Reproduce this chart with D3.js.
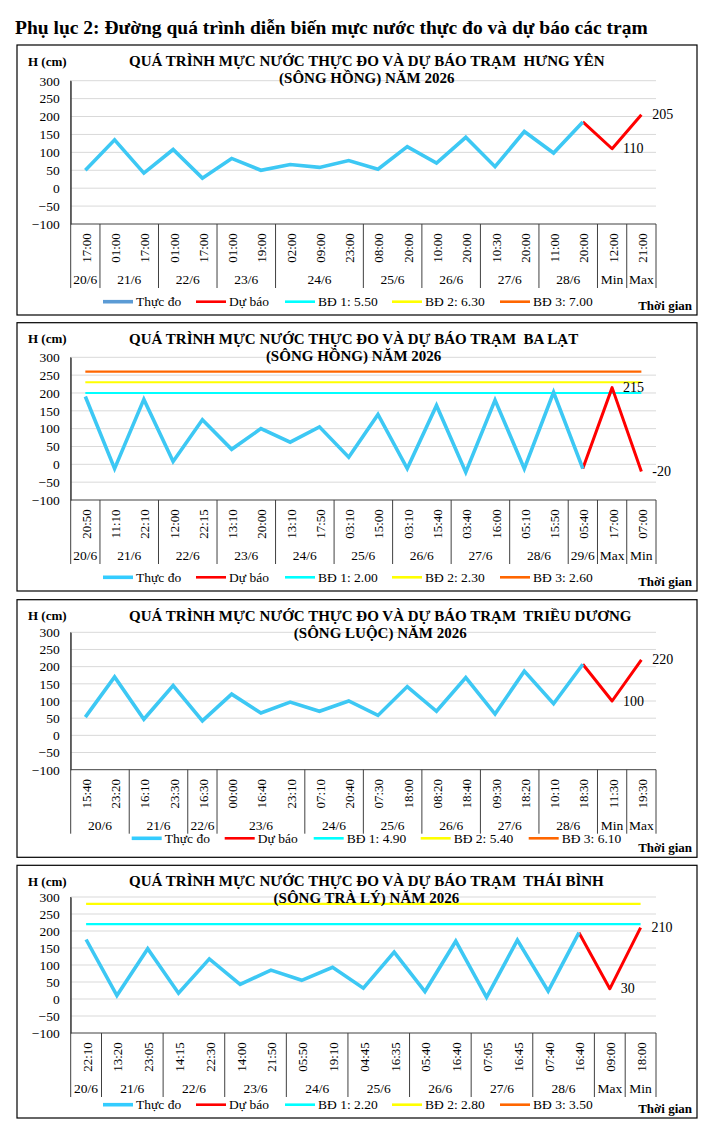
<!DOCTYPE html>
<html>
<head>
<meta charset="utf-8">
<script src="https://cdn.jsdelivr.net/npm/d3@7"></script>
<style>
  body { margin: 0; background: #fff; }
  svg { font-family: "Liberation Serif", "Times New Roman", serif; }
  .chart-title { white-space: pre; }
</style>
</head>
<body>
<svg id="page"></svg>
<script>
// ---- data (values in cm, alarm levels in m) ----
const hungYenTimes = ["17:00","01:00","17:00","01:00","17:00","01:00","19:00","02:00","09:00","23:00","08:00","20:00","10:00","20:00","10:30","20:00","11:00","20:00","12:00","21:00"];
const hungYenDays = ["20/6","21/6","21/6","22/6","22/6","23/6","23/6","24/6","24/6","24/6","25/6","25/6","26/6","26/6","27/6","27/6","28/6","28/6","Min","Max"];
const hungYenObserved = [50,135,42,108,28,83,50,66,58,77,53,116,70,142,60,158,98,185];
const hungYenForecast = [110,205];
const hungYenAlarms = [5.50,6.30,7.00];

const baLatTimes = ["20:50","11:10","22:10","12:00","22:15","13:10","20:00","13:10","17:50","03:10","15:00","03:10","15:40","03:40","16:00","05:10","15:50","05:40","17:00","07:00"];
const baLatDays = ["20/6","21/6","21/6","22/6","22/6","23/6","23/6","24/6","24/6","25/6","25/6","26/6","26/6","27/6","27/6","28/6","28/6","29/6","Max","Min"];
const baLatObserved = [190,-12,182,8,125,42,100,62,105,20,140,-12,165,-22,180,-12,202,-12];
const baLatForecast = [215,-20];
const baLatAlarms = [2.00,2.30,2.60];

const trieuDuongTimes = ["15:40","23:20","16:10","23:30","16:30","00:00","16:40","23:10","07:10","20:40","07:30","18:00","08:20","18:40","09:30","18:20","10:10","18:30","11:30","19:30"];
const trieuDuongDays = ["20/6","20/6","21/6","21/6","22/6","23/6","23/6","23/6","24/6","24/6","25/6","25/6","26/6","26/6","27/6","27/6","28/6","28/6","Min","Max"];
const trieuDuongObserved = [53,170,47,145,42,120,65,97,70,100,58,142,70,168,62,187,92,207];
const trieuDuongForecast = [100,220];
const trieuDuongAlarms = [4.90,5.40,6.10];

const thaiBinhTimes = ["22:10","13:20","23:05","14:15","22:30","14:00","21:50","05:50","19:10","04:45","16:35","05:40","16:40","07:05","16:45","07:40","16:40","09:00","18:00"];
const thaiBinhDays = ["20/6","21/6","21/6","22/6","22/6","23/6","23/6","24/6","24/6","25/6","25/6","26/6","26/6","27/6","27/6","28/6","28/6","Max","Min"];
const thaiBinhObserved = [175,10,148,17,118,43,85,55,93,32,138,22,170,5,173,23,195];
const thaiBinhForecast = [30,210];
const thaiBinhAlarms = [2.20,2.80,3.50];

const yTicks = [-100,-50,0,50,100,150,200,250,300];
const alarmColors = ["#00FFFF", "#FFFF00", "#FF6600"];

const svg = d3.select("#page").attr("width", 715).attr("height", 1138);

svg.append("text")
    .attr("x", 15)
    .attr("y", 34)
    .attr("font-size", "19.5px")
    .attr("font-weight", "bold")
    .text("Phụ lục 2: Đường quá trình diễn biến mực nước thực đo và dự báo các trạm");

class StationChart {
    constructor(_config, _data) {
        this.config = {
            boxTop: _config.boxTop,
            boxBottom: _config.boxBottom,
            plotTop: _config.plotTop,
            plotBottom: _config.plotBottom,
            legendY: _config.legendY,
            timeY: _config.timeY,
            legendX: _config.legendX || 103,
            legendObsColor: _config.legendObsColor || "#33CCFF",
            left: 70.7,
            right: 656,
            boxLeft: 17,
            boxRight: 697
        };
        this.data = _data;
        this.initVis();
    }

    initVis() {
        let vis = this;
        const c = vis.config;

        vis.g = svg.append("g");

        vis.g.append("rect")
            .attr("x", c.boxLeft)
            .attr("y", c.boxTop)
            .attr("width", c.boxRight - c.boxLeft)
            .attr("height", c.boxBottom - c.boxTop)
            .attr("fill", "#fff")
            .attr("stroke", "#000")
            .attr("stroke-width", 1.2);

        vis.n = vis.data.times.length;
        vis.xScale = d3.scaleBand().domain(d3.range(vis.n)).range([c.left, c.right]).padding(0);
        vis.yScale = d3.scaleLinear().domain([-100, 300]).range([c.plotBottom, c.plotTop]);

        vis.renderVis();
    }

    cx(i) {
        return this.xScale(i) + this.xScale.bandwidth() / 2;
    }

    renderVis() {
        let vis = this;
        const c = vis.config;
        const d = vis.data;

        // gridlines
        vis.g.selectAll(".grid")
            .data(yTicks.filter(t => t > -100))
            .join("line")
            .attr("class", "grid")
            .attr("x1", c.left)
            .attr("x2", c.right)
            .attr("y1", t => vis.yScale(t))
            .attr("y2", t => vis.yScale(t))
            .attr("stroke", "#D9D9D9")
            .attr("stroke-width", 1);

        // y axis
        const yAxisG = vis.g.append("g")
            .attr("transform", `translate(${c.left},0)`)
            .call(d3.axisLeft(vis.yScale).tickValues(yTicks).tickSize(0).tickPadding(11));
        yAxisG.attr("font-family", null);
        yAxisG.select(".domain").attr("stroke", "#404040");
        yAxisG.selectAll("text")
            .attr("font-size", "13.5px")
            .attr("fill", "#000");

        // bottom axis line
        vis.g.append("line")
            .attr("x1", c.left).attr("x2", c.right)
            .attr("y1", c.plotBottom).attr("y2", c.plotBottom)
            .attr("stroke", "#404040");

        // time tick labels
        vis.g.selectAll(".time-label")
            .data(d.times)
            .join("text")
            .attr("class", "time-label")
            .attr("transform", (t, i) => `translate(${vis.cx(i) + 1},${c.plotBottom + 24}) rotate(-90)`)
            .attr("text-anchor", "middle")
            .attr("dominant-baseline", "central")
            .attr("font-size", "13px")
            .text(t => t);

        // day groups
        const groups = [];
        d.days.forEach((day, i) => {
            const last = groups[groups.length - 1];
            if (last && last.label === day) last.end = i;
            else groups.push({ label: day, start: i, end: i });
        });

        const bounds = [0, ...groups.map(gr => gr.end + 1)];
        vis.g.selectAll(".group-sep")
            .data(bounds)
            .join("line")
            .attr("class", "group-sep")
            .attr("x1", b => b < vis.n ? vis.xScale(b) : c.right)
            .attr("x2", b => b < vis.n ? vis.xScale(b) : c.right)
            .attr("y1", b => b === 0 ? c.plotTop : c.plotBottom)
            .attr("y2", c.plotBottom + 64)
            .attr("stroke", "#404040");

        vis.g.selectAll(".group-label")
            .data(groups)
            .join("text")
            .attr("class", "group-label")
            .attr("x", gr => (vis.xScale(gr.start) + vis.xScale(gr.end) + vis.xScale.bandwidth()) / 2)
            .attr("y", c.plotBottom + 55.5)
            .attr("text-anchor", "middle")
            .attr("dominant-baseline", "central")
            .attr("font-size", "13.5px")
            .text(gr => gr.label);

        // alarm levels (m -> cm), only those inside the axis range
        const alarms = d.alarms.map((v, i) => ({ cm: v * 100, color: alarmColors[i] }))
            .filter(a => a.cm <= 300);
        vis.g.selectAll(".alarm")
            .data(alarms)
            .join("line")
            .attr("class", "alarm")
            .attr("x1", vis.cx(0))
            .attr("x2", vis.cx(vis.n - 1))
            .attr("y1", a => vis.yScale(a.cm))
            .attr("y2", a => vis.yScale(a.cm))
            .attr("stroke", a => a.color)
            .attr("stroke-width", 2.2);

        const line = d3.line()
            .x(p => vis.cx(p.i))
            .y(p => vis.yScale(p.v));

        const obs = d.observed.map((v, i) => ({ i, v }));
        const k = obs.length - 1;
        const fc = [obs[k], ...d.forecast.map((v, j) => ({ i: k + 1 + j, v }))];

        vis.g.append("path")
            .datum(fc)
            .attr("d", line)
            .attr("fill", "none")
            .attr("stroke", "#FF0000")
            .attr("stroke-width", 3)
            .attr("stroke-linejoin", "round");

        vis.g.append("path")
            .datum(obs)
            .attr("d", line)
            .attr("fill", "none")
            .attr("stroke", "#3DC8F4")
            .attr("stroke-width", 3.6)
            .attr("stroke-linejoin", "miter");

        vis.g.selectAll(".value-label")
            .data(fc.slice(1))
            .join("text")
            .attr("class", "value-label")
            .attr("x", p => vis.cx(p.i) + 11)
            .attr("y", p => vis.yScale(p.v))
            .attr("dominant-baseline", "central")
            .attr("font-size", "14px")
            .text(p => p.v);

        // titles
        vis.g.append("text")
            .attr("x", 28)
            .attr("y", c.boxTop + 16)
            .attr("dominant-baseline", "central")
            .attr("font-size", "13px")
            .attr("font-weight", "bold")
            .text("H (cm)");

        const t1 = vis.g.append("text")
            .attr("class", "chart-title")
            .attr("x", 129)
            .attr("y", c.boxTop + 16)
            .attr("dominant-baseline", "central")
            .attr("font-size", "15px")
            .attr("font-weight", "bold")
            .text(d.title);
        const w = t1.node().getComputedTextLength();
        vis.g.append("text")
            .attr("class", "chart-title")
            .attr("x", 129 + w / 2)
            .attr("y", c.boxTop + 33)
            .attr("text-anchor", "middle")
            .attr("dominant-baseline", "central")
            .attr("font-size", "15px")
            .attr("font-weight", "bold")
            .text(d.subtitle);

        // legend
        const items = [
            { label: "Thực đo", color: c.legendObsColor, width: 3.6, dx: 0 },
            { label: "Dự báo", color: "#FF0000", width: 2.6, dx: 93 },
            { label: "BĐ 1: " + d.alarms[0].toFixed(2), color: alarmColors[0], width: 2.6, dx: 182 },
            { label: "BĐ 2: " + d.alarms[1].toFixed(2), color: alarmColors[1], width: 2.6, dx: 289 },
            { label: "BĐ 3: " + d.alarms[2].toFixed(2), color: alarmColors[2], width: 2.6, dx: 397 }
        ];
        const legend = vis.g.append("g")
            .attr("transform", `translate(${c.legendX},${c.legendY})`);
        const li = legend.selectAll("g")
            .data(items)
            .join("g")
            .attr("transform", it => `translate(${it.dx},0)`);
        li.append("line")
            .attr("x1", 0).attr("x2", 30)
            .attr("stroke", it => it.color)
            .attr("stroke-width", it => it.width);
        li.append("text")
            .attr("x", 33)
            .attr("dominant-baseline", "central")
            .attr("font-size", "13.5px")
            .text(it => it.label);

        vis.g.append("text")
            .attr("x", 692)
            .attr("y", c.timeY)
            .attr("text-anchor", "end")
            .attr("dominant-baseline", "central")
            .attr("font-size", "13px")
            .attr("font-weight", "bold")
            .text("Thời gian");
    }
}

new StationChart(
    { boxTop: 45, boxBottom: 315, plotTop: 80.7, plotBottom: 224, legendY: 301.7, timeY: 305, legendObsColor: "#5B9BD5" },
    { times: hungYenTimes, days: hungYenDays, observed: hungYenObserved, forecast: hungYenForecast, alarms: hungYenAlarms,
      title: "QUÁ TRÌNH MỰC NƯỚC THỰC ĐO VÀ DỰ BÁO TRẠM  HƯNG YÊN", subtitle: "(SÔNG HỒNG) NĂM 2026" }
);
new StationChart(
    { boxTop: 322.7, boxBottom: 591, plotTop: 357.3, plotBottom: 500, legendY: 577.3, timeY: 581.3 },
    { times: baLatTimes, days: baLatDays, observed: baLatObserved, forecast: baLatForecast, alarms: baLatAlarms,
      title: "QUÁ TRÌNH MỰC NƯỚC THỰC ĐO VÀ DỰ BÁO TRẠM  BA LẠT", subtitle: "(SÔNG HỒNG) NĂM 2026" }
);
new StationChart(
    { boxTop: 599.7, boxBottom: 857.3, plotTop: 632.3, plotBottom: 769.7, legendY: 838.3, timeY: 847.3, legendX: 131.7 },
    { times: trieuDuongTimes, days: trieuDuongDays, observed: trieuDuongObserved, forecast: trieuDuongForecast, alarms: trieuDuongAlarms,
      title: "QUÁ TRÌNH MỰC NƯỚC THỰC ĐO VÀ DỰ BÁO TRẠM  TRIỀU DƯƠNG", subtitle: "(SÔNG LUỘC) NĂM 2026" }
);
new StationChart(
    { boxTop: 865.3, boxBottom: 1118, plotTop: 897, plotBottom: 1033, legendY: 1104.7, timeY: 1108.7 },
    { times: thaiBinhTimes, days: thaiBinhDays, observed: thaiBinhObserved, forecast: thaiBinhForecast, alarms: thaiBinhAlarms,
      title: "QUÁ TRÌNH MỰC NƯỚC THỰC ĐO VÀ DỰ BÁO TRẠM  THÁI BÌNH", subtitle: "(SÔNG TRÀ LÝ) NĂM 2026" }
);
</script>
</body>
</html>
